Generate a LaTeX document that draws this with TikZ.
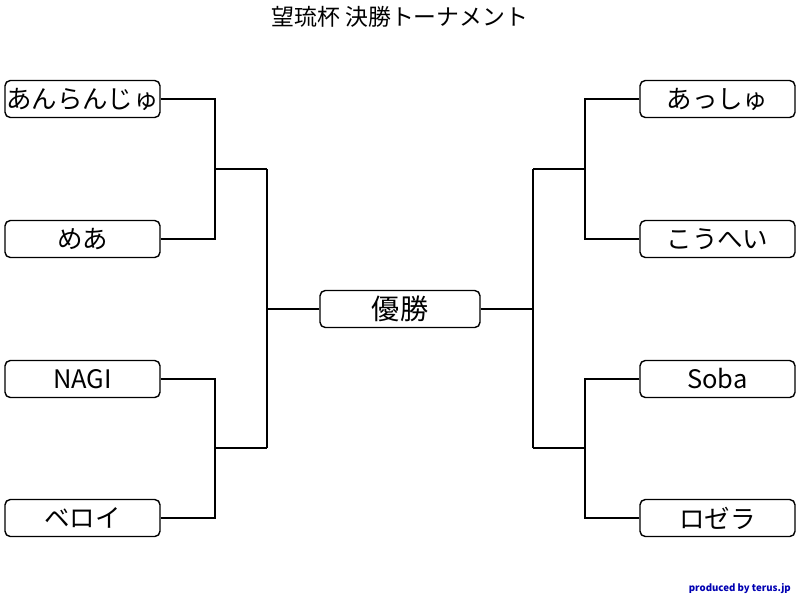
\documentclass[tikz,border=0pt]{standalone}
\usepackage{fontspec}
\setmainfont{Noto Sans CJK JP}
\usetikzlibrary{positioning}

\begin{document}
\begin{tikzpicture}[x=0.02cm,y=-0.02cm,
	player/.style={draw,thick,rounded corners=3pt,minimum width=155*0.02cm,minimum height=37*0.02cm,inner sep=0pt,font=\fontsize{14.5}{14.5}\selectfont},
	line/.style={thick}]
	\useasboundingbox (0,0) rectangle (800,600);
	\node at (400,17) {\fontsize{13}{13}\selectfont 望琉杯 決勝トーナメント};

	% left side
	\node[player] (l1) at (82.5,99) {あんらんじゅ};
	\node[player] (l2) at (82.5,239) {めあ};
	\node[player] (l3) at (82.5,379) {NAGI};
	\node[player] (l4) at (82.5,518) {ベロイ};
	% right side
	\node[player] (r1) at (717.5,99) {あっしゅ};
	\node[player] (r2) at (717.5,239) {こうへい};
	\node[player] (r3) at (717.5,379) {Soba};
	\node[player] (r4) at (717.5,518) {ロゼラ};
	% final
	\node[player,minimum width=160*0.02cm,font=\fontsize{16}{16}\selectfont] (win) at (400,309) {優勝};

	\coordinate (la) at (267,169);
	\coordinate (lb) at (267,448);
	\coordinate (ra) at (533,169);
	\coordinate (rb) at (533,448);

	\draw[line] (l1.east) -| (215,169) -- (la);
	\draw[line] (l2.east) -| (215,169);
	\draw[line] (l3.east) -| (215,448) -- (lb);
	\draw[line] (l4.east) -| (215,448);
	\draw[line] (la) -- (lb);
	\draw[line] (win.west) -- (267,309);

	\draw[line] (r1.west) -| (585,169) -- (ra);
	\draw[line] (r2.west) -| (585,169);
	\draw[line] (r3.west) -| (585,448) -- (rb);
	\draw[line] (r4.west) -| (585,448);
	\draw[line] (ra) -- (rb);
	\draw[line] (win.east) -- (533,309);

	\node[anchor=east,text=blue!70!black,font=\fontsize{5.5}{6}\selectfont\bfseries] at (797,589) {produced by terus.jp};
\end{tikzpicture}
\end{document}
